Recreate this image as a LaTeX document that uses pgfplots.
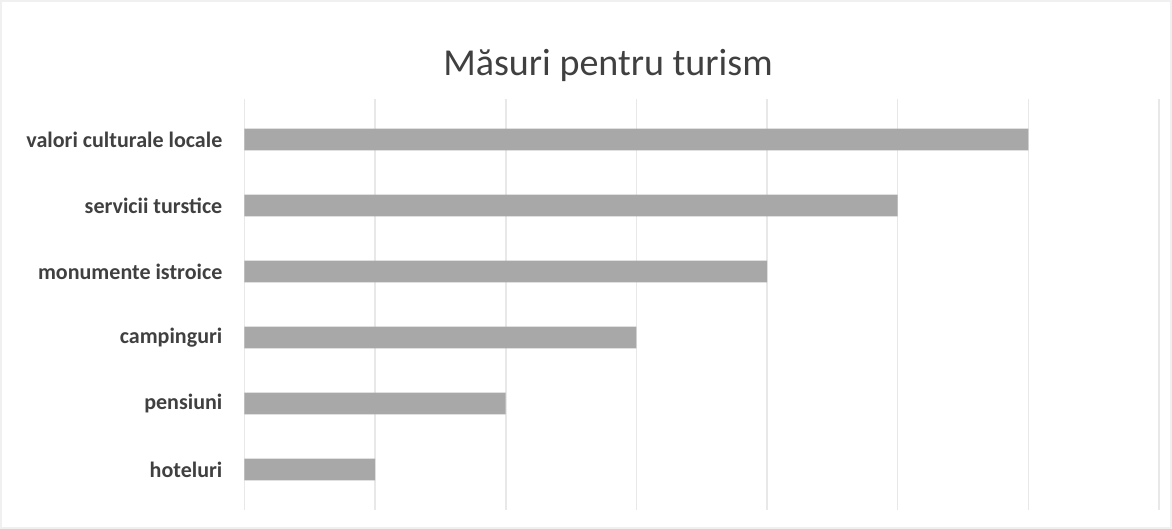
\documentclass[border=0pt]{standalone}
\usepackage{pgfplots}
\pgfplotsset{compat=1.18}
\usepackage{fontspec}
\setmainfont{Carlito}
\definecolor{txt}{HTML}{404040}
\definecolor{barc}{HTML}{A8A8A8}
\definecolor{gridc}{HTML}{E8E8E8}
\begin{document}
\begin{tikzpicture}[x=0.5pt,y=0.5pt]
\path[draw=gray!12,line width=1pt] (2,2) rectangle (1170,528);
\node[text=txt,font=\fontsize{19}{22}\selectfont] at (608,464) {Măsuri pentru turism};
\begin{axis}[
  at={(245*0.5pt,20*0.5pt)}, anchor=south west,
  scale only axis, width=913*0.5pt, height=410*0.5pt,
  xbar, bar width=0.33,
  xmin=0, xmax=7, ymin=-0.61, ymax=5.61,
  xtick={0,...,7}, xticklabels={}, major tick length=0pt,
  xmajorgrids, ymajorgrids=false, grid style={draw=gridc, line width=0.8pt},
  axis line style={draw=none},
  ytick={0,...,5},
  yticklabels={hoteluri,pensiuni,campinguri,monumente istroice,servicii turstice,valori culturale locale},
  yticklabel style={font=\fontsize{11}{13}\selectfont\bfseries, text=txt, xshift=-7.5pt},
]
\addplot[fill=barc, draw=none] coordinates {(1,0) (2,1) (3,2) (4,3) (5,4) (6,5)};
\end{axis}
\end{tikzpicture}
\end{document}
